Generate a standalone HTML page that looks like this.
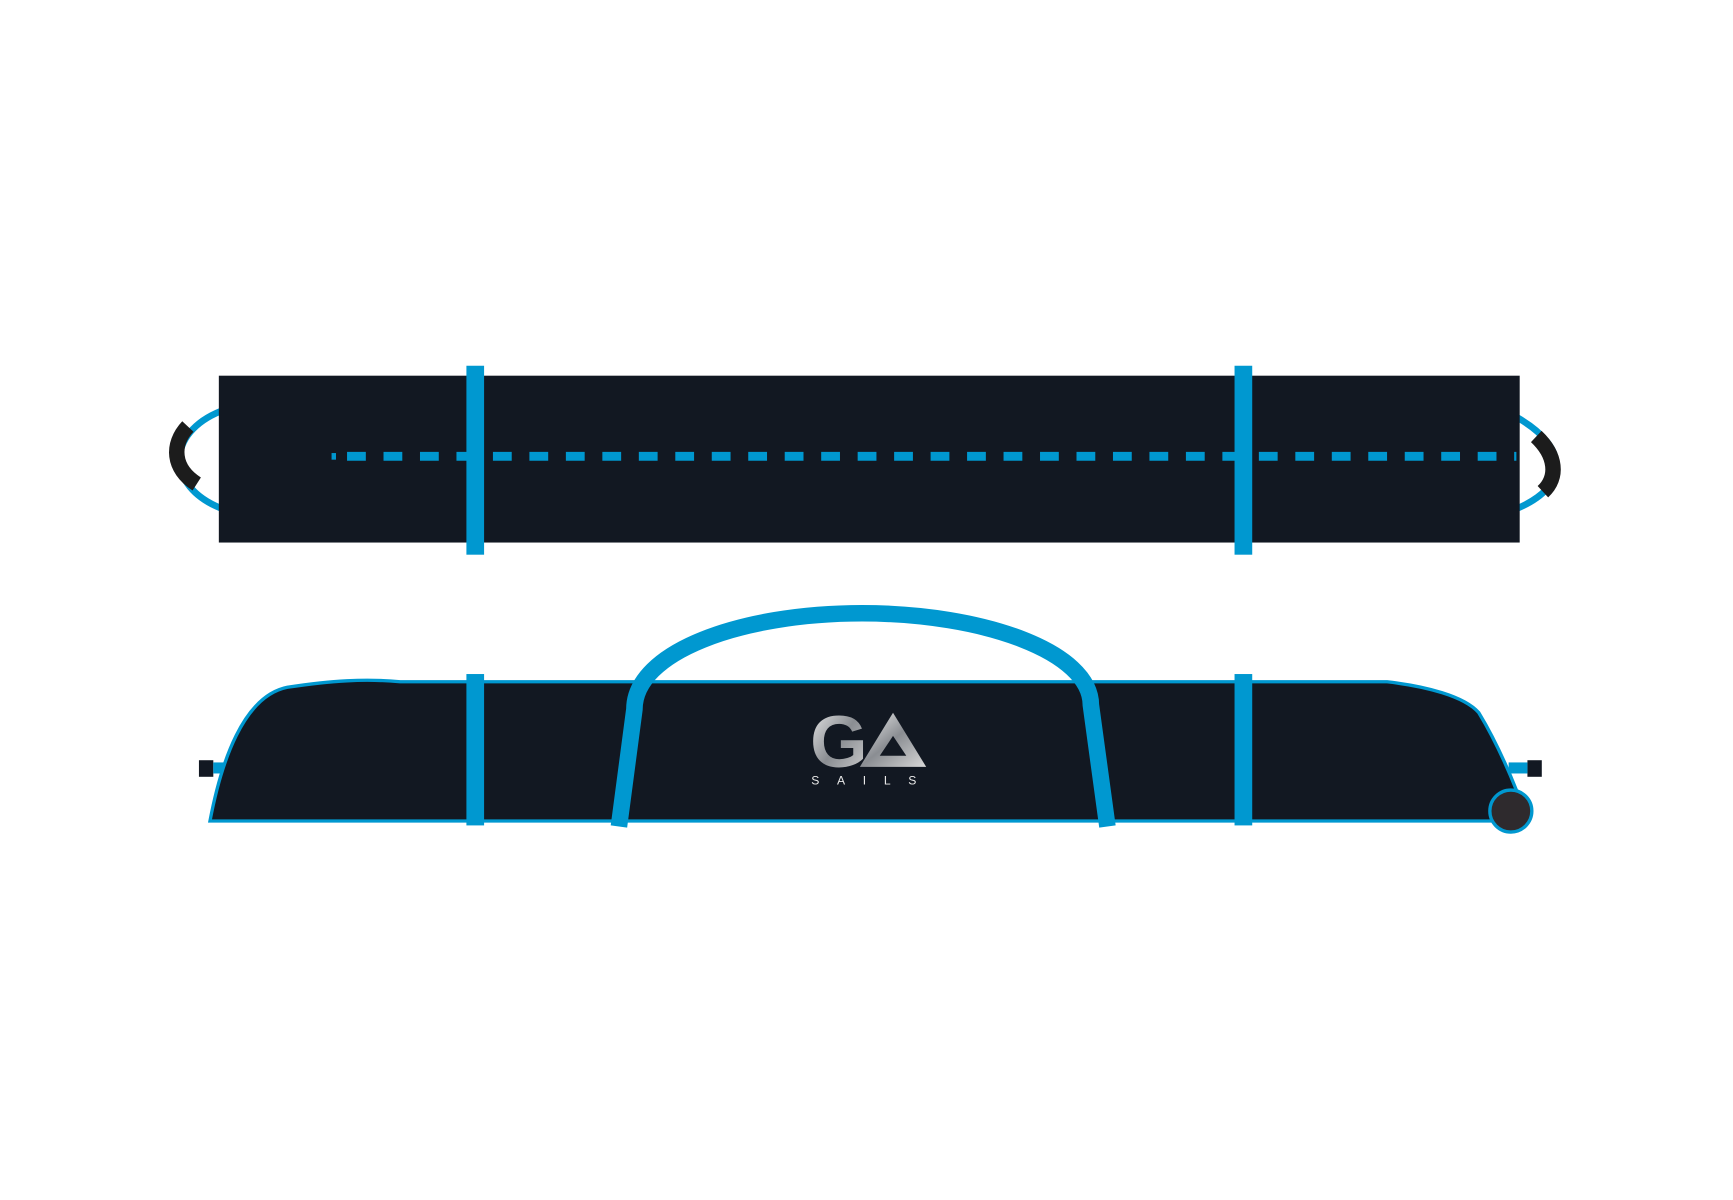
<!DOCTYPE html>
<html><head><meta charset="utf-8"><style>
html,body{margin:0;padding:0;background:#fff;width:1733px;height:1200px;overflow:hidden}
</style></head><body>
<svg width="1733" height="1200" viewBox="0 0 1568 1086" preserveAspectRatio="none" xmlns="http://www.w3.org/2000/svg">
<defs>
<linearGradient id="lg" x1="0" y1="0" x2="1" y2="1">
<stop offset="0" stop-color="#f2f2f2"/><stop offset="0.5" stop-color="#8a8d92"/><stop offset="1" stop-color="#d8d8d8"/>
</linearGradient>
</defs>
<path d="M200,372 C150,392 150,440 200,460" fill="none" stroke="#0098d0" stroke-width="6"/>
<path d="M170,386 C155,402 156,424 178,438" fill="none" stroke="#1c1c1c" stroke-width="14"/>
<path d="M1373,378 C1420,405 1420,440 1373,460" fill="none" stroke="#0098d0" stroke-width="6"/>
<path d="M1390,395 C1408,412 1410,432 1396,445" fill="none" stroke="#1c1c1c" stroke-width="14"/>
<rect x="198" y="340" width="1177" height="151" fill="#121822"/>
<rect x="300" y="410" width="4" height="6" fill="#0098d0"/>
<line x1="314" y1="413" x2="1372" y2="413" stroke="#0098d0" stroke-width="8" stroke-dasharray="17,16"/>
<rect x="422" y="331" width="16" height="171" fill="#0098d0"/>
<rect x="1117" y="331" width="16" height="171" fill="#0098d0"/>
<rect x="180" y="688" width="13" height="15" fill="#121822"/>
<rect x="193" y="690" width="12" height="10" fill="#0098d0"/>
<rect x="1382" y="688" width="13" height="15" fill="#121822"/>
<rect x="1365" y="690" width="17" height="10" fill="#0098d0"/>
<path d="M190,743 C200,690 220,630 260,622 C300,616 330,614 362,617 L1255,617 C1290,621 1325,630 1338,645 C1352,668 1362,690 1372,715 L1352,743 Z" fill="#121822" stroke="#0098d0" stroke-width="3"/>
<rect x="422" y="610" width="16" height="137" fill="#0098d0"/>
<rect x="1117" y="610" width="16" height="137" fill="#0098d0"/>
<path d="M560,748 L574,642 C574,590 670,555 780,555 C890,555 987,590 987,638 L1002,748" fill="none" stroke="#0098d0" stroke-width="15"/>
<circle cx="1367" cy="734" r="19" fill="#2e2a2d" stroke="#0098d0" stroke-width="3"/>
<text x="733" y="694" font-family="Liberation Sans, sans-serif" font-weight="bold" font-size="66" fill="url(#lg)" textLength="52" lengthAdjust="spacingAndGlyphs">G</text>
<path d="M808,645 L838,694 L778,694 Z M808,666 L796,684 L820,684 Z" fill="url(#lg)" fill-rule="evenodd"/>
<text x="734" y="710" font-family="Liberation Sans, sans-serif" font-size="11" fill="#e8e8e8" letter-spacing="16">SAILS</text>
</svg>
</body></html>
